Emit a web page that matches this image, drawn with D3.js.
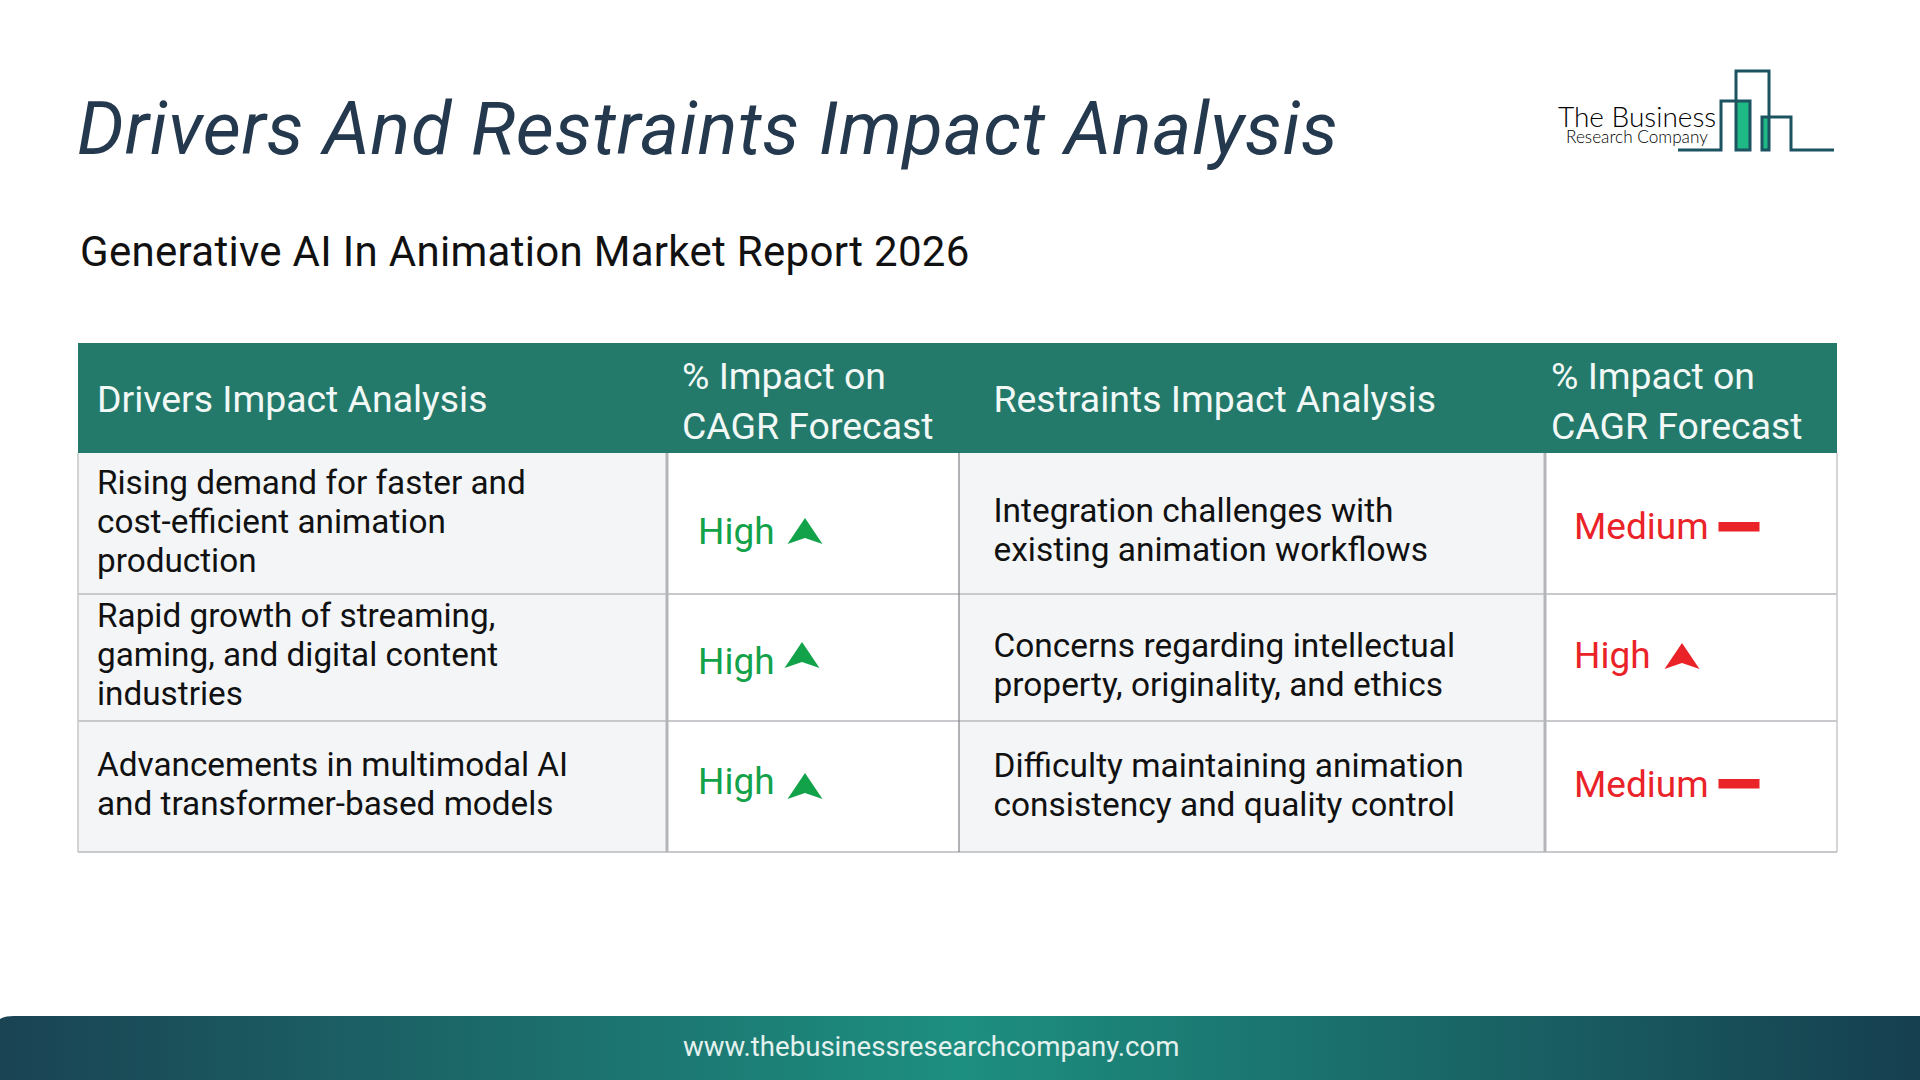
<!DOCTYPE html>
<html>
<head>
<meta charset="utf-8">
<script src="https://cdn.jsdelivr.net/npm/d3@7"></script>
<style>
	html, body { margin: 0; padding: 0; background: #fff; }
	svg { display: block; }
	text { font-family: Roboto, sans-serif; }
</style>
</head>
<body>
<svg id="chart" width="1920" height="1080"></svg>
<script>
const titleText = "Drivers And Restraints Impact Analysis";
const subtitleText = "Generative AI In Animation Market Report 2026";
const footerText = "www.thebusinessresearchcompany.com";

const headers = [
	["Drivers Impact Analysis"],
	["% Impact on", "CAGR Forecast"],
	["Restraints Impact Analysis"],
	["% Impact on", "CAGR Forecast"]
];
const drivers = [
	["Rising demand for faster and", "cost-efficient animation", "production"],
	["Rapid growth of streaming,", "gaming, and digital content", "industries"],
	["Advancements in multimodal AI", "and transformer-based models"]
];
const driverImpact = ["High", "High", "High"];
const restraints = [
	["Integration challenges with", "existing animation workflows"],
	["Concerns regarding intellectual", "property, originality, and ethics"],
	["Difficulty maintaining animation", "consistency and quality control"]
];
const restraintImpact = ["Medium", "High", "Medium"];

// Set up dimensions
const width = 1920;
const height = 1080;
const colEdges = [78, 667, 959, 1545, 1837];
const rowEdges = [453, 594, 721, 852];
const headTop = 343;
const lineStep = 39;
const textPad = 19;
const green = "#12a24a";
const red = "#ea2329";

// first baselines, one per row
const driverBase = [494, 627, 776];
const restraintBase = [522, 657, 777];
const driverLevelBase = [543.5, 673.5, 793.5];
const restraintLevelBase = [539, 668, 796.5];
const driverIconTop = [518, 642, 773];
const restraintIconTop = [518, 643, 775];
const driverIconX = [805, 802, 805];
const restraintIconX = [1739, 1682, 1739];

const svg = d3.select("#chart");
const defs = svg.append("defs");

const footGrad = defs.append("linearGradient").attr("id", "footGrad");
footGrad.selectAll("stop")
	.data([["0%", "#1a4353"], ["50%", "#1d8f80"], ["100%", "#163f4f"]])
	.join("stop")
	.attr("offset", (d) => d[0])
	.attr("stop-color", (d) => d[1]);

// Title block
svg.append("text")
	.attr("x", 77).attr("y", 154)
	.style("font-size", "74px")
	.style("font-style", "italic")
	.style("fill", "#24394e")
	.style("letter-spacing", "0.67px")
	.text(titleText);

svg.append("text")
	.attr("x", 80).attr("y", 265.5)
	.style("font-size", "42px")
	.style("fill", "#111")
	.style("letter-spacing", "0.3px")
	.text(subtitleText);

// Logo
const logo = svg.append("g");
logo.selectAll("rect")
	.data([[1737, 101, 13, 49], [1763, 117, 6, 33]])
	.join("rect")
	.attr("x", (d) => d[0]).attr("y", (d) => d[1])
	.attr("width", (d) => d[2]).attr("height", (d) => d[3])
	.attr("fill", "#1fb985");
logo.append("path")
	.attr("d", "M1678,150H1721V101H1750V150H1736V71H1769V150H1762V117H1791V150H1834")
	.attr("fill", "none")
	.attr("stroke", "#1c5361")
	.attr("stroke-width", 3);
logo.append("text")
	.attr("x", 1558).attr("y", 127)
	.style("font-family", "Lato, sans-serif")
	.style("font-weight", 300)
	.style("font-size", "28px")
	.style("fill", "#000")
	.text("The Business");
logo.append("text")
	.attr("x", 1566).attr("y", 143)
	.style("font-family", "Lato, sans-serif")
	.style("font-weight", 300)
	.style("font-size", "17.2px")
	.style("fill", "#000")
	.text("Research Company");

// Table backgrounds
svg.selectAll("rect.shade")
	.data([0, 2])
	.join("rect")
	.attr("class", "shade")
	.attr("x", (c) => colEdges[c])
	.attr("y", rowEdges[0])
	.attr("width", (c) => colEdges[c + 1] - colEdges[c])
	.attr("height", rowEdges[3] - rowEdges[0])
	.attr("fill", "#f3f5f7");

svg.append("rect")
	.attr("x", colEdges[0]).attr("y", headTop)
	.attr("width", colEdges[4] - colEdges[0])
	.attr("height", rowEdges[0] - headTop)
	.attr("fill", "#237a6b");

// Grid lines
svg.selectAll("line.hrow")
	.data(rowEdges.slice(1))
	.join("line")
	.attr("class", "hrow")
	.attr("x1", colEdges[0]).attr("x2", colEdges[4])
	.attr("y1", (d) => d).attr("y2", (d) => d)
	.attr("stroke", "#c8c9cd")
	.attr("stroke-width", 2);

svg.selectAll("line.vcol")
	.data([
		[colEdges[0], "#c4c6c9", 1.5],
		[colEdges[1], "#b3b5b9", 3],
		[colEdges[2], "#808285", 1.2],
		[colEdges[3], "#b3b5b9", 3],
		[colEdges[4], "#c8c9cd", 1.5]
	])
	.join("line")
	.attr("class", "vcol")
	.attr("x1", (d) => d[0]).attr("x2", (d) => d[0])
	.attr("y1", rowEdges[0]).attr("y2", rowEdges[3])
	.attr("stroke", (d) => d[1])
	.attr("stroke-width", (d) => d[2]);

// Multi-line text helper
function addLines(x, y, lines, color, size, step) {
	const t = svg.append("text")
		.attr("x", x).attr("y", y)
		.style("font-size", `${size}px`)
		.style("fill", color);
	t.selectAll("tspan")
		.data(lines)
		.join("tspan")
		.attr("x", x)
		.attr("dy", (d, i) => (i ? step : 0))
		.text((d) => d);
}

// Header
const headX = [colEdges[0] + textPad, 682, colEdges[2] + 34.5, 1551];
headers.forEach((lines, i) => {
	addLines(headX[i], lines.length > 1 ? 389 : 412, lines, "#f2f8f6", 37.4, 49.5);
});

// Body text
drivers.forEach((lines, i) => addLines(colEdges[0] + textPad, driverBase[i], lines, "#111", 33.3, lineStep));
restraints.forEach((lines, i) => addLines(colEdges[2] + 34.5, restraintBase[i], lines, "#111", 33.45, lineStep));

// Impact levels
function addLevel(x, y, label, color) {
	svg.append("text")
		.attr("x", x).attr("y", y)
		.style("font-size", "37px")
		.style("fill", color)
		.text(label);
}

function addIcon(label, cx, top, color) {
	if (label === "High") {
		svg.append("path")
			.attr("transform", `translate(${cx},${top})`)
			.attr("d", "M0,0L17.5,26L0,20L-17.5,26Z")
			.attr("fill", color);
	} else {
		svg.append("rect")
			.attr("x", cx - 20.5).attr("y", top + 4)
			.attr("width", 41).attr("height", 9.5)
			.attr("fill", color);
	}
}

driverImpact.forEach((d, i) => {
	addLevel(698, driverLevelBase[i], d, green);
	addIcon(d, driverIconX[i], driverIconTop[i], green);
});
restraintImpact.forEach((d, i) => {
	addLevel(1574, restraintLevelBase[i], d, red);
	addIcon(d, restraintIconX[i], restraintIconTop[i], red);
});

// Footer
svg.append("path")
	.attr("d", `M0,1019Q4,1016 14,1016H${width}V${height}H0Z`)
	.attr("fill", "url(#footGrad)");

svg.append("text")
	.attr("x", 683).attr("y", 1056)
	.style("font-size", "27.6px")
	.style("fill", "#e4f1ee")
	.text(footerText);
</script>
</body>
</html>
